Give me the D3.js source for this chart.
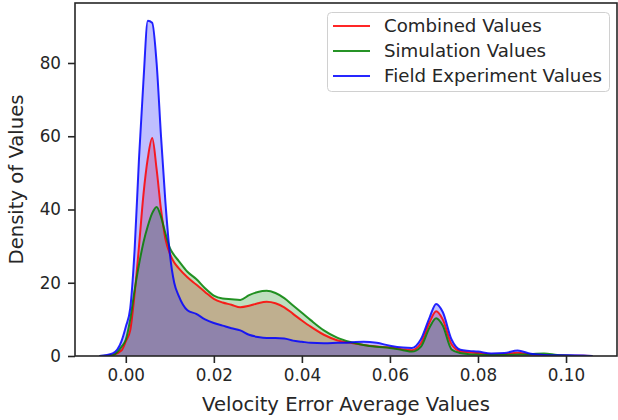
<!DOCTYPE html>
<html>
<head>
<meta charset="utf-8">
<script src="https://cdn.jsdelivr.net/npm/d3@7"></script>
<style>
  html, body { margin: 0; padding: 0; background: #fff; }
  svg { display: block; font-family: "DejaVu Sans", sans-serif; }
</style>
</head>
<body>
<svg id="chart" width="618" height="420"></svg>
<script>
// ---- data ----
const seriesNames = ["Combined Values", "Simulation Values", "Field Experiment Values"];
const seriesColors = ["#ff0000", "#008000", "#0000ff"];
const xValues = [-0.006, -0.003, -0.001, 0.000, 0.001, 0.002, 0.003, 0.004, 0.005, 0.006,
  0.007, 0.008, 0.009, 0.010, 0.011, 0.012, 0.014, 0.016, 0.018, 0.020,
  0.022, 0.024, 0.026, 0.028, 0.030, 0.032, 0.034, 0.036, 0.038, 0.040,
  0.042, 0.045, 0.048, 0.051, 0.054, 0.057, 0.060, 0.063, 0.065, 0.067,
  0.069, 0.0705, 0.072, 0.074, 0.076, 0.078, 0.080, 0.083, 0.086, 0.089,
  0.092, 0.095, 0.098, 0.101, 0.104, 0.106];
const combinedValues = [0, 0.3, 1.5, 4, 7, 17, 30, 44, 54, 59.5,
  51, 40, 32, 28, 25.5, 24, 21.5, 19.5, 17.5, 15.6,
  14.6, 14, 13.3, 13.7, 14.4, 14.8, 14.4, 13.3, 11.5, 9.7,
  8, 5.8, 4.3, 3.6, 3.0, 2.6, 2.3, 1.8, 1.6, 3.4,
  9.2, 12.2, 10, 3.2, 1.3, 1.0, 0.8, 0.4, 0.5, 0.9,
  0.4, 0.3, 0.2, 0.1, 0.05, 0];
const simulationValues = [0, 0.2, 2.5, 4.5, 10, 18, 25, 31, 35.5, 39,
  40.7, 38, 33.5, 29.5, 27.5, 26, 23, 21, 18.5, 16.5,
  15.7, 15.5, 15.3, 16.6, 17.5, 17.8, 17.2, 15.8, 13.8, 11.8,
  9.8, 7, 5, 3.8, 3.0, 2.5, 2.2, 1.6, 1.2, 2.5,
  7.8, 10.3, 8.3, 1.8, 0.8, 0.5, 0.4, 0.3, 0.3, 0.4,
  0.5, 0.7, 0.3, 0.1, 0, 0];
const fieldValues = [0, 0.7, 4, 8, 13, 29, 54, 75, 91.5, 91,
  80, 60, 42, 28, 20, 16.5, 12.5, 11.5, 10, 9,
  8.3, 7.6, 7, 5.8, 5.2, 4.9, 4.9, 4.8, 4.2, 3.9,
  3.6, 3.5, 3.6, 3.7, 3.9, 3.6, 2.8, 2.3, 2.2, 4.5,
  10.5, 14.2, 12, 4.5, 1.7, 1.4, 1.2, 0.7, 0.8, 1.5,
  0.6, 0.3, 0.2, 0.2, 0.15, 0];
const xTicks = [0.00, 0.02, 0.04, 0.06, 0.08, 0.10];
const yTicks = [0, 20, 40, 60, 80];
const xLabel = "Velocity Error Average Values";
const yLabel = "Density of Values";

// ---- layout ----
const svg = d3.select("#chart");
const L = 75, R = 617, T = 3, B = 356;
const x = d3.scaleLinear().domain([-0.01154, 0.11158]).range([L, R]);
const y = d3.scaleLinear().domain([0, 96.38]).range([B, T]);
const ink = "#262626";

const allSeries = [combinedValues, simulationValues, fieldValues].map((vals, i) => ({
  name: seriesNames[i], color: seriesColors[i],
  points: xValues.map((xv, j) => ({ x: xv, y: vals[j] }))
}));

const area = d3.area().x(d => x(d.x)).y0(y(0)).y1(d => y(d.y)).curve(d3.curveMonotoneX);
const line = d3.line().x(d => x(d.x)).y(d => y(d.y)).curve(d3.curveMonotoneX);

const plot = svg.append("g");
plot.append("defs").append("clipPath").attr("id", "clip")
  .append("rect").attr("x", L).attr("y", T).attr("width", R - L).attr("height", B - T);

// fills (under lines)
const fills = plot.append("g").attr("clip-path", "url(#clip)");
allSeries.forEach(s => {
  fills.append("path").datum(s.points).attr("d", area)
    .attr("fill", s.color).attr("fill-opacity", 0.25).attr("stroke", "none");
});
const lines = plot.append("g").attr("clip-path", "url(#clip)");
allSeries.forEach(s => {
  lines.append("path").datum(s.points).attr("d", line)
    .attr("fill", "none").attr("stroke", s.color).attr("stroke-width", 2)
    .attr("stroke-opacity", 0.85).attr("stroke-linejoin", "round");
});

// axes
const xAxis = d3.axisBottom(x).tickValues(xTicks).tickFormat(d3.format(".2f")).tickSize(7).tickPadding(6);
const yAxis = d3.axisLeft(y).tickValues(yTicks).tickFormat(d3.format("d")).tickSize(7).tickPadding(7);

const gx = svg.append("g").attr("transform", `translate(0,${B})`).call(xAxis);
const gy = svg.append("g").attr("transform", `translate(${L},0)`).call(yAxis);
[gx, gy].forEach(g => {
  g.select(".domain").remove();
  g.selectAll(".tick line").attr("stroke", ink).attr("stroke-width", 1.6);
  g.selectAll(".tick text").attr("fill", ink).style("font-size", "16.8px")
    .style("font-family", "'DejaVu Sans', sans-serif");
});

// spines (full frame)
svg.append("rect").attr("x", L).attr("y", T).attr("width", R - L).attr("height", B - T)
  .attr("fill", "none").attr("stroke", ink).attr("stroke-width", 1.6);

// axis labels
svg.append("text").attr("x", (L + R) / 2).attr("y", 411)
  .attr("text-anchor", "middle").attr("fill", ink).style("font-size", "19.6px").text(xLabel);
svg.append("text").attr("transform", `translate(23,${(T + B) / 2}) rotate(-90)`)
  .attr("text-anchor", "middle").attr("fill", ink).style("font-size", "19.6px").text(yLabel);

// legend
const lg = svg.append("g");
lg.append("rect").attr("x", 327.5).attr("y", 12.5).attr("width", 282).attr("height", 79)
  .attr("rx", 4).attr("fill", "#fff").attr("fill-opacity", 0.8)
  .attr("stroke", "#d0d0d0").attr("stroke-width", 1);
allSeries.forEach((s, i) => {
  const cy = 26 + i * 25;
  lg.append("line").attr("x1", 333).attr("x2", 370).attr("y1", cy).attr("y2", cy)
    .attr("stroke", s.color).attr("stroke-width", 2).attr("stroke-opacity", 0.85);
  lg.append("text").attr("x", 384).attr("y", cy).attr("dy", "0.35em")
    .attr("fill", ink).style("font-size", "18.2px").text(s.name);
});
</script>
</body>
</html>
